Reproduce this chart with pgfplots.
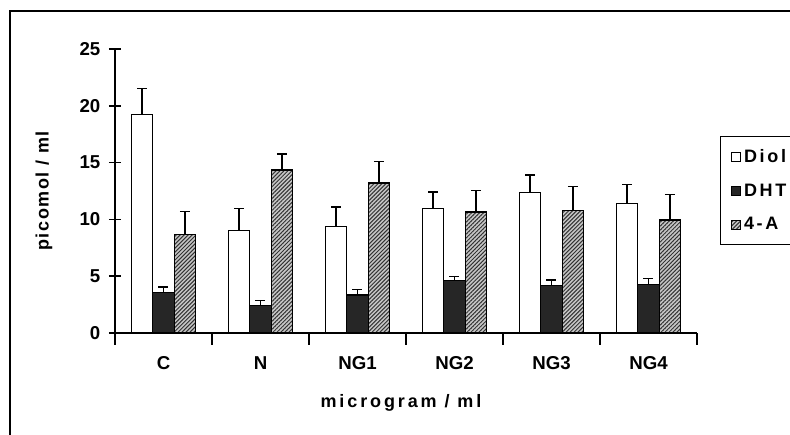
\documentclass[border=0pt]{standalone}
\usepackage{fontspec}
\setmainfont{Liberation Sans}
\newfontfamily\lsX[LetterSpace=16]{Liberation Sans}
\newfontfamily\lsY[LetterSpace=9]{Liberation Sans}
\newfontfamily\lsL[LetterSpace=15]{Liberation Sans}
\usepackage{pgfplots}
\usepackage{pgfplotstable}
\pgfplotsset{compat=1.18}
\usetikzlibrary{patterns.meta}

\pgfplotstableread{
x y err
0 19.2 2.3
1 9.0 1.95
2 9.35 1.75
3 10.95 1.45
4 12.4 1.5
5 11.4 1.65
}\diol
\pgfplotstableread{
x y err
0 3.55 0.5
1 2.4 0.45
2 3.35 0.5
3 4.65 0.3
4 4.15 0.5
5 4.3 0.5
}\dht
\pgfplotstableread{
x y err
0 8.7 2.0
1 14.35 1.4
2 13.2 1.9
3 10.65 1.9
4 10.8 2.1
5 9.95 2.25
}\fourA

\begin{document}
\begin{tikzpicture}
\useasboundingbox (0pt,0pt) rectangle (592.5pt,326.25pt);
\draw[line width=1.1pt] (7.5pt,-2pt) -- (7.5pt,318pt) -- (600pt,318pt);
\begin{axis}[
  at={(86.25pt,76.5pt)}, anchor=south west,
  scale only axis, width=436.5pt, height=213pt,
  xmin=-0.5, xmax=5.5, ymin=0, ymax=25,
  axis x line*=bottom, axis y line*=left,
  axis line style={line width=1.1pt, -},
  ytick={0,5,...,25},
  xtick={0,...,5}, xticklabels={C,N,NG1,NG2,NG3,NG4},
  minor xtick={-0.5,0.5,...,5.5},
  tick align=center,
  major tick length=9pt, minor tick length=9pt,
  major x tick style={draw=none},
  minor x tick style={line width=1.1pt, black},
  major y tick style={line width=1.1pt, black},
  /pgf/number format/assume math mode=true,
  ticklabel style={font=\bfseries\fontsize{14}{16}\selectfont},
  yticklabel style={anchor=east, xshift=-3pt},
  xticklabel style={anchor=base, yshift=-18.75pt},
  xlabel={\fontsize{13.5}{15}\selectfont\lsX\bfseries microgram / ml},
  ylabel={\fontsize{13.5}{15}\selectfont\lsY\bfseries picomol / ml},
  every axis x label/.style={at={(axis description cs:0.4914,-0.2606)}, anchor=base},
  every axis y label/.style={at={(axis description cs:-0.122,0.5)}, rotate=90, anchor=center},
  ybar=0pt, bar width=0.22,
  legend style={at={(axis description cs:1.0395,0.6937)}, anchor=north west,
    draw=black, line width=1.1pt, font=\fontsize{13.5}{15}\selectfont\lsL\bfseries,
    inner xsep=8pt, inner ysep=7.5pt, row sep=10.5pt, cells={anchor=west}},
  legend image code/.code={\draw[#1, line width=0.7pt] (0pt,-3.4pt) rectangle (6.8pt,3.4pt);},
  every axis plot/.append style={draw=black, line width=0.9pt,
    error bars/y dir=plus, error bars/y explicit,
    error bars/error bar style={line width=1.1pt, black},
    error bars/error mark options={rotate=90, line width=1.1pt, black, mark size=3.75pt}},
]
\addplot[fill=white] table[x=x, y=y, y error=err] {\diol};
\addlegendentry{Diol}
\addplot[fill=black!85] table[x=x, y=y, y error=err] {\dht};
\addlegendentry{DHT}
\addplot[fill=gray!45, postaction={pattern color=black!80, pattern={Lines[angle=45,distance=2.1pt,line width=0.75pt]}}] table[x=x, y=y, y error=err] {\fourA};
\addlegendentry{4-A}
\end{axis}
\end{tikzpicture}
\end{document}
